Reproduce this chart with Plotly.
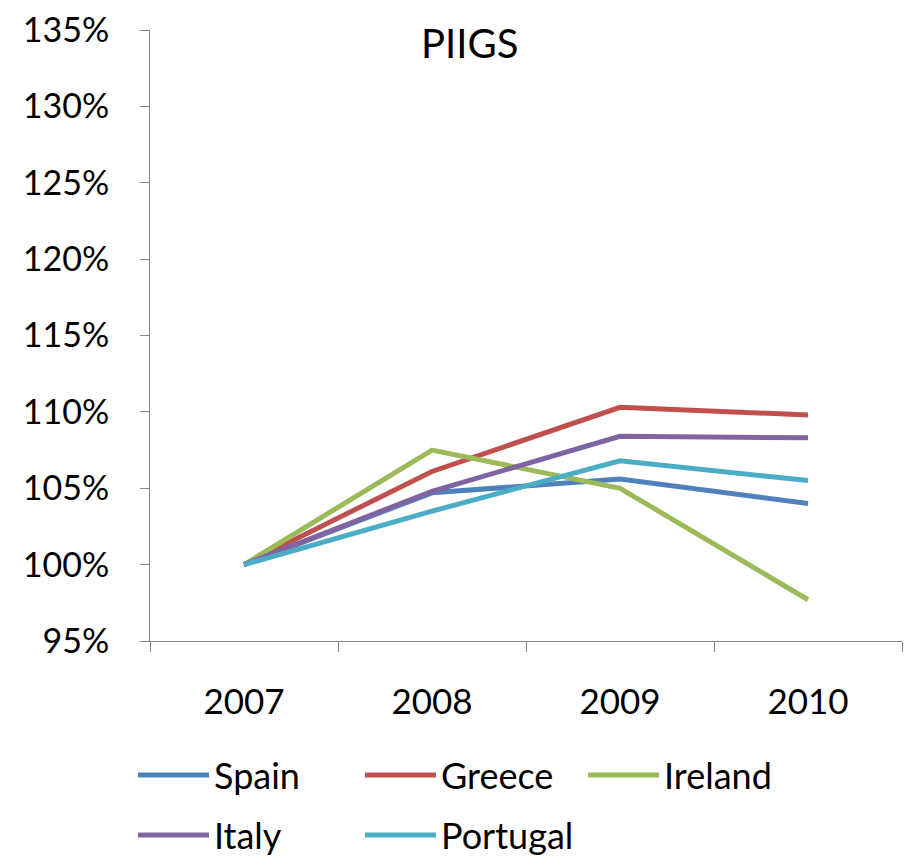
import plotly.graph_objects as go

years = ["2007", "2008", "2009", "2010"]
spain = [100.0, 104.7, 105.6, 104.0]
greece = [100.0, 106.1, 110.3, 109.8]
ireland = [100.0, 107.5, 105.0, 97.7]
italy = [100.0, 104.8, 108.4, 108.3]
portugal = [100.0, 103.5, 106.8, 105.5]

names = ["Spain", "Greece", "Ireland", "Italy", "Portugal"]
series = [spain, greece, ireland, italy, portugal]
colors = ["#4F81BD", "#C0504D", "#9BBB59", "#8064A2", "#4BACC6"]

y_ticks = [95, 100, 105, 110, 115, 120, 125, 130, 135]
y_labels = [f"{v}%" for v in y_ticks]

FONT = "Lato, 'Open Sans', sans-serif"

# page body has an 8px margin; the figure is offset by it
OFF = 8
W, H = 911 - OFF, 861 - OFF

fig = go.Figure()
for name, vals, col in zip(names, series, colors):
    fig.add_trace(go.Scatter(x=years, y=vals, mode="lines", name=name,
                             line=dict(color=col, width=5), showlegend=False))

# plot area in page pixels
X0, X1, YT, YB = 150, 902, 30, 641
def px(x):
    return (x - X0) / (X1 - X0)
def py(y):
    return (YB - y) / (YB - YT)

# manual legend (long line samples like the original)
leg_pos = [(138, 775), (365, 775), (588, 775), (138, 835), (365, 835)]
shapes = []
annotations = []
for (lx, ly), name, col in zip(leg_pos, names, colors):
    shapes.append(dict(type="line", xref="paper", yref="paper",
                       x0=px(lx), x1=px(lx + 71), y0=py(ly), y1=py(ly),
                       line=dict(color=col, width=5)))
    annotations.append(dict(text=name, xref="paper", yref="paper",
                            x=px(lx + 74), y=py(ly), xanchor="left", yanchor="middle",
                            showarrow=False, font=dict(size=36, color="#000000", family=FONT)))

annotations.append(dict(text="PIIGS", xref="paper", yref="paper",
                        x=px(469), y=py(43), xanchor="center", yanchor="middle",
                        showarrow=False, font=dict(size=40, color="#000000", family=FONT)))

fig.update_layout(
    width=W, height=H,
    margin=dict(l=X0 - OFF, r=911 - X1, t=YT - OFF, b=861 - YB, autoexpand=False),
    paper_bgcolor="white", plot_bgcolor="white",
    font=dict(family=FONT, size=34, color="#000000"),
    showlegend=False,
    shapes=shapes,
    annotations=annotations,
    xaxis=dict(type="category", range=[-0.5, 3.5], tickson="boundaries",
               ticks="outside", ticklen=10, tickcolor="#868686", tickwidth=1,
               showline=True, linecolor="#868686", linewidth=1,
               showgrid=False, zeroline=False, ticklabelstandoff=30,
               ticklabeloverflow="allow",
               tickfont=dict(size=35, family=FONT)),
    yaxis=dict(range=[95, 135], tickvals=y_ticks, ticktext=y_labels,
               ticks="outside", ticklen=9, tickcolor="#868686", tickwidth=1,
               showline=True, linecolor="#868686", linewidth=1,
               showgrid=False, zeroline=False, ticklabelstandoff=24,
               ticklabeloverflow="allow",
               tickfont=dict(size=34, family=FONT)),
)

fig.write_html("out.html")
